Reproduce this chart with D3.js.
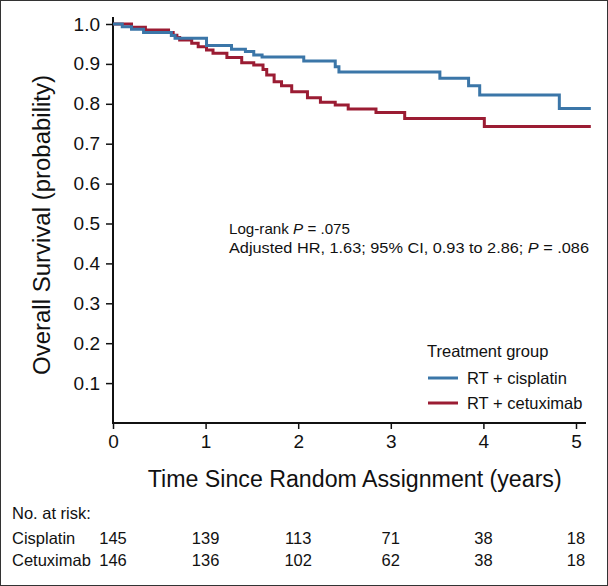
<!DOCTYPE html>
<html><head><meta charset="utf-8">
<script src="https://cdn.jsdelivr.net/npm/d3@7"></script>
<style>body{margin:0;background:#fff}svg{display:block}</style>
</head><body>
<script>
const cisplatinTimes = [0, 0.10, 0.20, 0.33, 0.63, 0.67, 1.01, 1.28, 1.43, 1.52, 1.61, 2.06, 2.40, 2.44, 3.53, 3.84, 3.96, 4.82, 5.16];
const cisplatinSurv  = [1.0, 0.993, 0.987, 0.979, 0.971, 0.964, 0.946, 0.937, 0.931, 0.922, 0.917, 0.907, 0.893, 0.880, 0.864, 0.845, 0.822, 0.788, 0.788];
const cetuximabTimes = [0, 0.20, 0.35, 0.60, 0.65, 0.69, 0.72, 0.85, 0.92, 1.01, 1.08, 1.23, 1.39, 1.52, 1.62, 1.66, 1.74, 1.82, 1.93, 2.10, 2.24, 2.40, 2.54, 2.84, 3.15, 4.01, 5.16];
const cetuximabSurv  = [1.0, 0.992, 0.985, 0.979, 0.972, 0.966, 0.960, 0.952, 0.943, 0.935, 0.927, 0.916, 0.903, 0.897, 0.886, 0.872, 0.855, 0.845, 0.830, 0.815, 0.804, 0.797, 0.787, 0.778, 0.763, 0.743, 0.743];
const xTicks = [0, 1, 2, 3, 4, 5];
const yTicks = [0.1, 0.2, 0.3, 0.4, 0.5, 0.6, 0.7, 0.8, 0.9, 1.0];
const riskGroups = ["Cisplatin", "Cetuximab"];
const riskCisplatin = [145, 139, 113, 71, 38, 18];
const riskCetuximab = [146, 136, 102, 62, 38, 18];
const seriesNames = ["RT + cisplatin", "RT + cetuximab"];
const colors = ["#3b76a8", "#9b1c33"];

const W = 608, H = 586;
const svg = d3.select("body").append("svg").attr("width", W).attr("height", H);
const sans = "'Liberation Sans', Arial, Helvetica, sans-serif";
const narrow = "'Liberation Sans Narrow', 'Arial Narrow', 'Liberation Sans', sans-serif";

svg.append("rect").attr("x", 0.5).attr("y", 0.5).attr("width", W - 1).attr("height", H - 1)
  .attr("fill", "#fff").attr("stroke", "#333").attr("stroke-width", 1);

const x = d3.scaleLinear().domain([0, 5]).range([113, 576]);
const y = d3.scaleLinear().domain([0, 1]).range([423, 24]);

// axes
const g = svg.append("g");
g.append("line").attr("x1", x(0)).attr("x2", 586).attr("y1", y(0)).attr("y2", y(0))
  .attr("stroke", "#111").attr("stroke-width", 2);
g.append("line").attr("x1", x(0)).attr("x2", x(0)).attr("y1", y(0) + 1).attr("y2", 17)
  .attr("stroke", "#111").attr("stroke-width", 2);

const xAxis = d3.axisBottom(x).tickValues(xTicks).tickFormat(d3.format("d")).tickSize(6).tickPadding(6);
const xg = svg.append("g").attr("transform", `translate(0,${y(0)})`).call(xAxis);
xg.select(".domain").remove();
xg.selectAll("line").attr("stroke", "#111").attr("stroke-width", 1.5);
xg.selectAll("text").attr("font-family", sans).attr("font-size", 19).attr("fill", "#111");

const yAxis = d3.axisLeft(y).tickValues(yTicks).tickFormat(d3.format(".1f")).tickSize(7).tickPadding(6);
const yg = svg.append("g").attr("transform", `translate(${x(0)},0)`).call(yAxis);
yg.select(".domain").remove();
yg.selectAll("line").attr("stroke", "#111").attr("stroke-width", 1.5);
yg.selectAll("text").attr("font-family", sans).attr("font-size", 19).attr("fill", "#111");

// curves
const line = d3.line().x(d => x(d[0])).y(d => y(d[1])).curve(d3.curveStepAfter);
const series = [
  d3.zip(cisplatinTimes, cisplatinSurv),
  d3.zip(cetuximabTimes, cetuximabSurv)
];
[1, 0].forEach(i => {
  svg.append("path").datum(series[i]).attr("d", line)
    .attr("fill", "none").attr("stroke", colors[i]).attr("stroke-width", 3)
    .attr("stroke-linejoin", "miter");
});

// axis titles
svg.append("text").attr("x", 354.7).attr("y", 487).attr("text-anchor", "middle")
  .attr("font-family", narrow).attr("font-size", 23).attr("fill", "#111")
  .attr("textLength", 414).attr("lengthAdjust", "spacingAndGlyphs")
  .text("Time Since Random Assignment (years)");
svg.append("text").attr("transform", "translate(50,225) rotate(-90)").attr("text-anchor", "middle")
  .attr("font-family", narrow).attr("font-size", 23).attr("fill", "#111")
  .attr("textLength", 300).attr("lengthAdjust", "spacingAndGlyphs")
  .text("Overall Survival (probability)");

// annotation
const ann = svg.append("g").attr("font-family", sans).attr("font-size", 15).attr("fill", "#111");
const t1 = ann.append("text").attr("x", 229).attr("y", 234).attr("textLength", 121).attr("lengthAdjust", "spacingAndGlyphs");
t1.append("tspan").text("Log-rank ");
t1.append("tspan").attr("font-style", "italic").text("P");
t1.append("tspan").text(" = .075");
const t2 = ann.append("text").attr("x", 229).attr("y", 253).attr("textLength", 360).attr("lengthAdjust", "spacingAndGlyphs");
t2.append("tspan").text("Adjusted HR, 1.63; 95% CI, 0.93 to 2.86; ");
t2.append("tspan").attr("font-style", "italic").text("P");
t2.append("tspan").text(" = .086");

// legend
const lg = svg.append("g").attr("font-family", sans).attr("font-size", 16.5).attr("fill", "#111");
lg.append("text").attr("x", 427).attr("y", 357).text("Treatment group");
seriesNames.forEach((nm, i) => {
  const yy = 378 + i * 25;
  lg.append("line").attr("x1", 428).attr("x2", 458).attr("y1", yy).attr("y2", yy)
    .attr("stroke", colors[i]).attr("stroke-width", 3);
  lg.append("text").attr("x", 467).attr("y", yy + 6).text(nm);
});

// risk table
const rt = svg.append("g").attr("font-family", sans).attr("font-size", 16.5).attr("fill", "#111");
rt.append("text").attr("x", 12).attr("y", 519).text("No. at risk:");
[riskCisplatin, riskCetuximab].forEach((vals, i) => {
  const yy = 544 + i * 22;
  rt.append("text").attr("x", 12).attr("y", yy).text(riskGroups[i]);
  vals.forEach((v, j) => {
    rt.append("text").attr("x", x(xTicks[j])).attr("y", yy).attr("text-anchor", "middle").text(v);
  });
});
</script>
</body></html>
